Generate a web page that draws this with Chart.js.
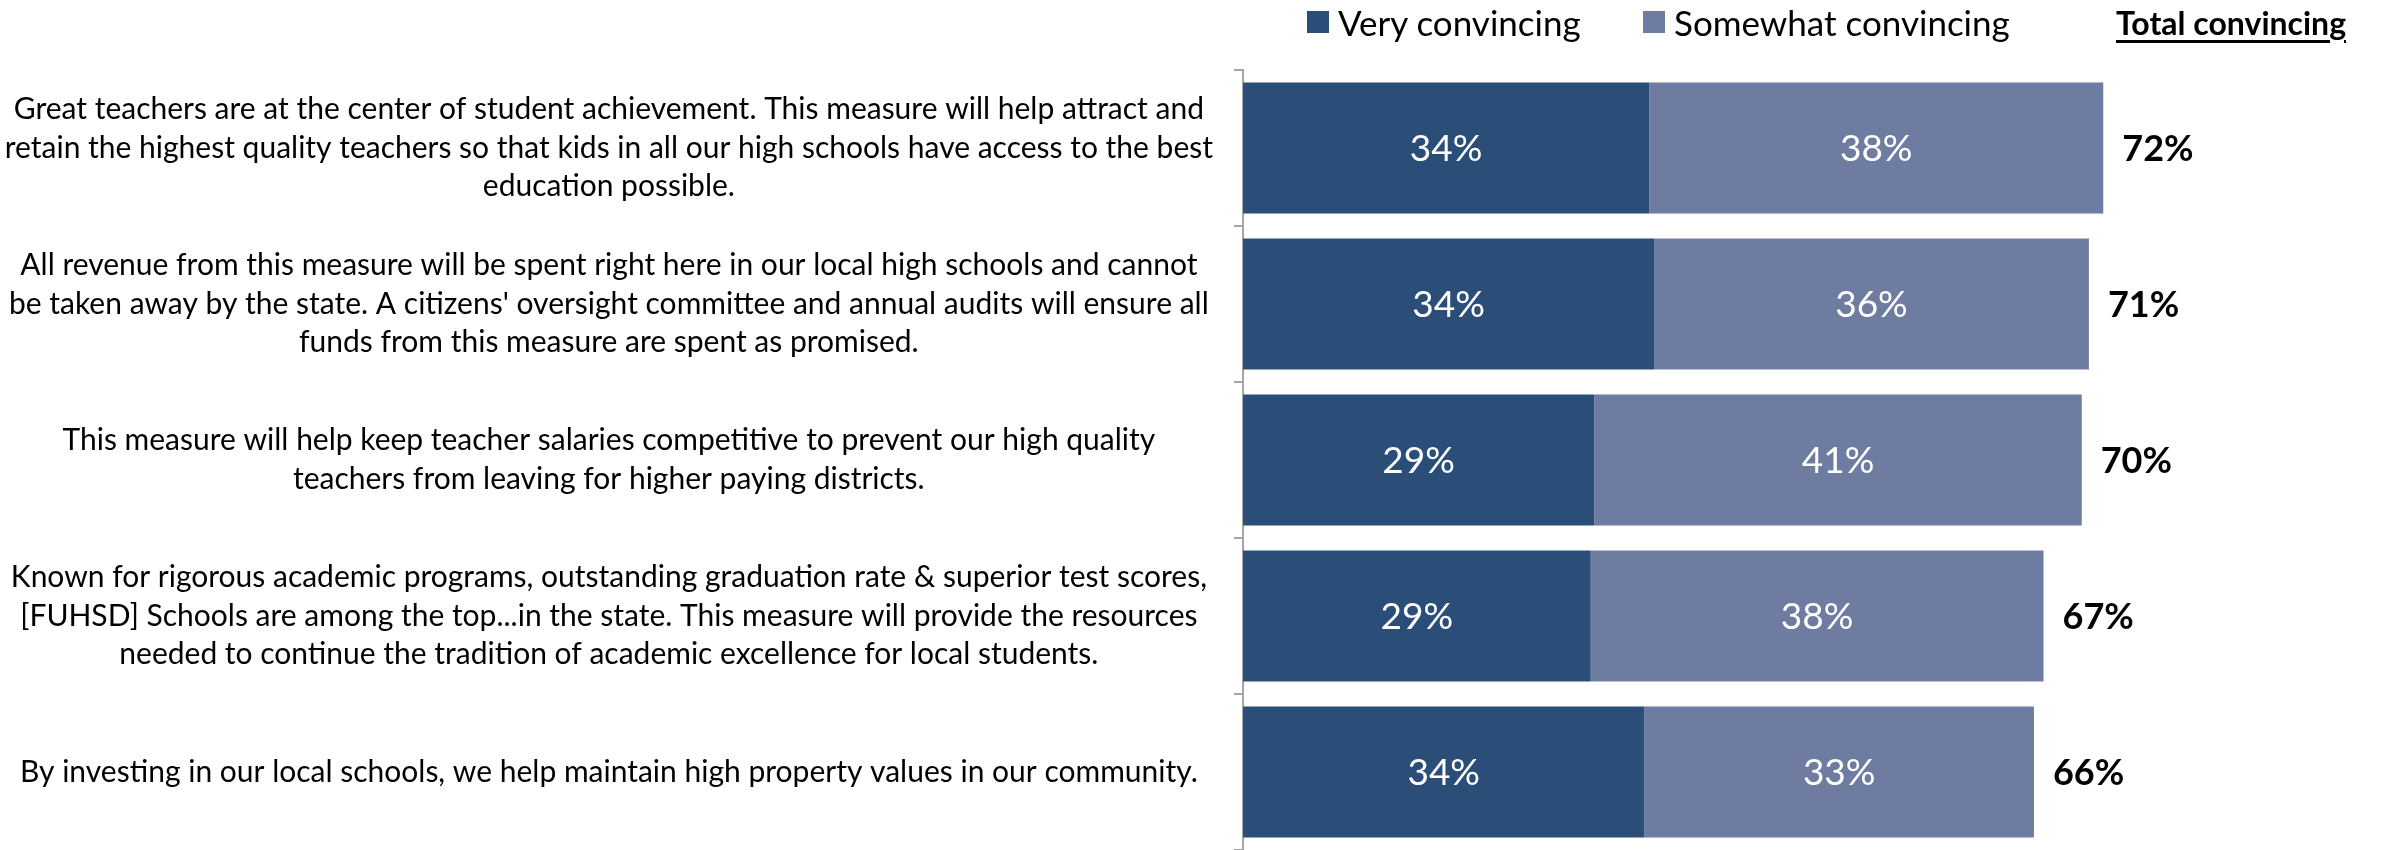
<!DOCTYPE html>
<html>
<head>
<meta charset="utf-8">
<script src="https://cdn.jsdelivr.net/npm/chart.js@4.4.1/dist/chart.umd.min.js"></script>
<style>
  html, body { margin: 0; padding: 0; background: #fff; }
  .wrap { position: relative; width: 2392px; height: 850px; }
  .legend { position: absolute; top: 0; left: 0; width: 2392px; height: 44px; font-family: Lato, 'Noto Sans', sans-serif; font-size: 35px; color: #000; }
  .legend .item { position: absolute; top: 2px; display: flex; align-items: center; height: 40px; white-space: nowrap; }
  .legend .box { width: 22px; height: 22px; margin-right: 9px; }
  .legend .total { font-size: 32px; font-weight: bold; text-decoration: underline; text-decoration-thickness: 3px; text-underline-offset: 5px; }
</style>
</head>
<body>
<div class="wrap">
  <canvas id="convincing" width="2392" height="850"></canvas>
  <div class="legend" id="legend"></div>
</div>
<script>
// statements, one row per bar (lines as they wrap in the original)
const statements = [
  ['Great teachers are at the center of student achievement. This measure will help attract and',
   'retain the highest quality teachers so that kids in all our high schools have access to the best',
   'education possible.'],
  ['All revenue from this measure will be spent right here in our local high schools and cannot',
   "be taken away by the state. A citizens' oversight committee and annual audits will ensure all",
   'funds from this measure are spent as promised.'],
  ['This measure will help keep teacher salaries competitive to prevent our high quality',
   'teachers from leaving for higher paying districts.'],
  ['Known for rigorous academic programs, outstanding graduation rate & superior test scores,',
   '[FUHSD] Schools are among the top...in the state. This measure will provide the resources',
   'needed to continue the tradition of academic excellence for local students.'],
  ['By investing in our local schools, we help maintain high property values in our community.']
]
const veryConvincing = [34.0, 34.4, 29.4, 29.1, 33.6]
const somewhatConvincing = [38.0, 36.4, 40.8, 37.9, 32.6]
const seriesNames = ['Very convincing', 'Somewhat convincing']
const totalHeader = 'Total convincing'

const colors = ['#2a4e77', '#6d7ca0']

// legend as html, items placed like the original
const legendLeft = [1307, 1643]
const legend = document.getElementById('legend')
seriesNames.forEach((name, i) => {
  const item = document.createElement('div')
  item.className = 'item'
  item.style.left = legendLeft[i] + 'px'
  item.innerHTML = `<span class="box" style="background:${colors[i]}"></span>${name}`
  legend.appendChild(item)
})
const tot = document.createElement('div')
tot.className = 'item total'
tot.style.left = '2116px'
tot.textContent = totalHeader
legend.appendChild(tot)

// value labels inside bars + totals at the end of each bar
const barLabels = {
  id: 'barLabels',
  afterDatasetsDraw(chart) {
    const ctx = chart.ctx
    ctx.save()
    ctx.textBaseline = 'middle'
    chart.data.datasets.forEach((ds, di) => {
      const meta = chart.getDatasetMeta(di)
      meta.data.forEach((bar, i) => {
        const {x, base, y} = bar.getProps(['x', 'base', 'y'], true)
        ctx.fillStyle = '#fff'
        ctx.font = '37px Lato, sans-serif'
        ctx.textAlign = 'center'
        ctx.fillText(Math.round(ds.data[i]) + '%', (x + base) / 2, y + 1)
      })
    })
    const last = chart.getDatasetMeta(chart.data.datasets.length - 1)
    last.data.forEach((bar, i) => {
      const {x, y} = bar.getProps(['x', 'y'], true)
      const total = Math.round(veryConvincing[i] + somewhatConvincing[i])
      ctx.fillStyle = '#000'
      ctx.font = 'bold 36px Lato, sans-serif'
      ctx.textAlign = 'left'
      ctx.fillText(total + '%', x + 19, y + 1)
    })
    ctx.restore()
  }
}

const data = {
  labels: statements,
  datasets: [
    { label: seriesNames[0], data: veryConvincing, backgroundColor: colors[0], borderWidth: 0 },
    { label: seriesNames[1], data: somewhatConvincing, backgroundColor: colors[1], borderWidth: 0 }
  ]
}

const config = {
  type: 'bar',
  data: data,
  options: {
    indexAxis: 'y',
    responsive: false,
    animation: false,
    barPercentage: 0.84,
    categoryPercentage: 1,
    layout: { padding: { top: 70, right: 2, bottom: 0, left: 0 } },
    plugins: {
      legend: { display: false },
      tooltip: { enabled: false }
    },
    scales: {
      x: {
        stacked: true,
        display: false,
        min: 0,
        max: 96
      },
      y: {
        stacked: true,
        afterFit(scale) {
          scale.width = 1243
          // labels may overhang the chart area like in the original
          scale.paddingTop = 0
          scale.paddingBottom = 0
        },
        grid: {
          offset: true,
          drawOnChartArea: false,
          drawTicks: true,
          tickLength: 9,
          color: '#a6a6a6',
          lineWidth: 2
        },
        border: { color: '#a6a6a6', width: 2 },
        ticks: {
          crossAlign: 'center',
          padding: 21,
          color: '#000',
          font: { family: 'Lato, sans-serif', size: 30, lineHeight: 1.28 }
        }
      }
    }
  },
  plugins: [barLabels]
}

const chart = new Chart(document.getElementById('convincing'), config)
</script>
</body>
</html>
